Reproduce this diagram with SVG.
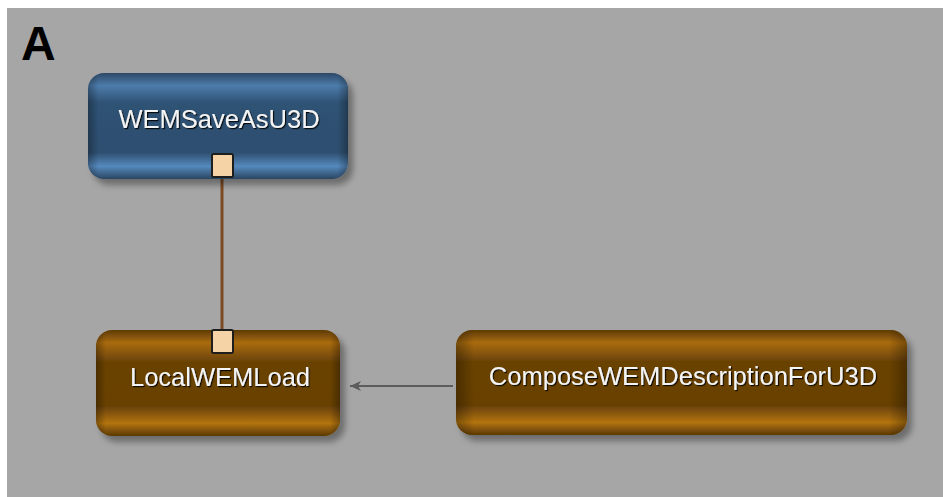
<svg xmlns="http://www.w3.org/2000/svg" width="943" height="497" viewBox="0 0 943 497">
  <style>
    .lbl { font-family: "Liberation Sans", Arial, sans-serif; font-size: 25.5px; fill: #f4f4f4; text-anchor: middle; filter: url(#txtShadow); }
    .panel { font-family: "Liberation Sans", Arial, sans-serif; font-size: 48px; font-weight: bold; fill: #000; }
    .port { fill: #f6d3a6; stroke: #1e1e1e; stroke-width: 2; }
    .wire { stroke: #7d4a22; stroke-width: 3; fill: none; }
    .flow { stroke: #5c5c5c; stroke-width: 2; fill: none; }
  </style>
  <defs>
    <linearGradient id="blueFill" x1="0" y1="0" x2="0" y2="1">
      <stop offset="0" stop-color="#2c4866"/>
      <stop offset="0.12" stop-color="#4d7cab"/>
      <stop offset="0.28" stop-color="#2f5274"/>
      <stop offset="0.75" stop-color="#2e4f70"/>
      <stop offset="0.88" stop-color="#5589bd"/>
      <stop offset="1" stop-color="#2a4560"/>
    </linearGradient>
    <linearGradient id="orangeFill" x1="0" y1="0" x2="0" y2="1">
      <stop offset="0" stop-color="#5e3a04"/>
      <stop offset="0.12" stop-color="#a96b0e"/>
      <stop offset="0.3" stop-color="#6b4306"/>
      <stop offset="0.72" stop-color="#684106"/>
      <stop offset="0.88" stop-color="#b37411"/>
      <stop offset="1" stop-color="#5a3803"/>
    </linearGradient>
    <linearGradient id="sideShade" x1="0" y1="0" x2="1" y2="0">
      <stop offset="0" stop-color="#000" stop-opacity="0.3"/>
      <stop offset="0.04" stop-color="#000" stop-opacity="0"/>
      <stop offset="0.96" stop-color="#000" stop-opacity="0"/>
      <stop offset="1" stop-color="#000" stop-opacity="0.3"/>
    </linearGradient>
    <filter id="nodeShadow" x="-10%" y="-20%" width="130%" height="150%">
      <feDropShadow dx="5" dy="6" stdDeviation="3" flood-color="#000" flood-opacity="0.35"/>
    </filter>
    <filter id="txtShadow" x="-5%" y="-20%" width="110%" height="150%">
      <feDropShadow dx="1.2" dy="1.2" stdDeviation="0.6" flood-color="#000" flood-opacity="0.85"/>
    </filter>
    <!-- drawn pointing along +x so orient="auto" follows the line direction -->
    <marker id="arrowHead" viewBox="0 0 12 12" refX="11" refY="6" markerWidth="12" markerHeight="12" markerUnits="userSpaceOnUse" orient="auto">
      <path d="M0,1 L11,6 L0,11 L3,6 Z" fill="#5c5c5c"/>
    </marker>
  </defs>

  <!-- canvas -->
  <rect x="0" y="0" width="943" height="497" fill="#ffffff"/>
  <rect x="7" y="8" width="936" height="489" fill="#a6a6a6"/>
  <text class="panel" x="21" y="60">A</text>

  <!-- connectors -->
  <g id="connectors">
    <line class="wire" x1="222" y1="177" x2="222" y2="331"/>
    <line class="flow" x1="453" y1="386" x2="350" y2="386" marker-end="url(#arrowHead)"/>
  </g>

  <!-- module nodes -->
  <g id="node-wemsaveasu3d">
    <g filter="url(#nodeShadow)">
      <rect x="88" y="73" width="260" height="106" rx="16" fill="url(#blueFill)"/>
    </g>
    <rect x="88" y="73" width="260" height="106" rx="16" fill="url(#sideShade)"/>
    <text class="lbl" x="219" y="128">WEMSaveAsU3D</text>
    <rect class="port" x="212" y="154" width="21" height="23" rx="1.5"/>
  </g>

  <g id="node-localwemload">
    <g filter="url(#nodeShadow)">
      <rect x="96" y="330" width="244" height="106" rx="16" fill="url(#orangeFill)"/>
    </g>
    <rect x="96" y="330" width="244" height="106" rx="16" fill="url(#sideShade)"/>
    <text class="lbl" x="220" y="386">LocalWEMLoad</text>
    <rect class="port" x="212" y="330" width="21" height="23" rx="1.5"/>
  </g>

  <g id="node-composewemdescriptionforu3d">
    <g filter="url(#nodeShadow)">
      <rect x="456" y="330" width="451" height="105" rx="16" fill="url(#orangeFill)"/>
    </g>
    <rect x="456" y="330" width="451" height="105" rx="16" fill="url(#sideShade)"/>
    <text class="lbl" x="683" y="385">ComposeWEMDescriptionForU3D</text>
  </g>
</svg>
